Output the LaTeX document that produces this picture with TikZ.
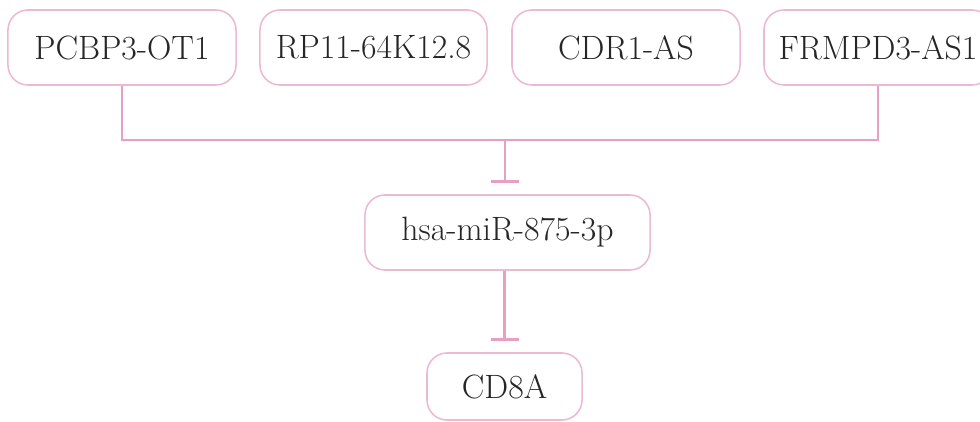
\documentclass[tikz,border=0pt]{standalone}
\usepackage{tikz}
\usetikzlibrary{arrows.meta, positioning}
\definecolor{boxpink}{HTML}{EBB9D4}
\definecolor{linkpink}{HTML}{E79FC3}
\definecolor{txtgray}{HTML}{262626}

\tikzset{
  gene/.style={draw=boxpink, line width=1.1pt, rounded corners=0.5cm,
    minimum height=1.875cm, text=txtgray, font=\fontsize{24}{28}\selectfont},
  link/.style={draw=linkpink, line width=2pt},
  inhib/.style={link, -{Bar[width=0.7cm, line width=2pt]}, shorten >=0.28cm}
}

\begin{document}
\begin{tikzpicture}[x=0.025cm, y=-0.025cm]
        \useasboundingbox (0,0) rectangle (980,421);
        % obere Reihe
        \node[gene, minimum width=5.7cm] (pcbp) at (122,47.5) {PCBP3-OT1};
        \node[gene, minimum width=5.675cm] (rpel) at (373.5,47.5) {RP11-64K12.8};
        \node[gene, minimum width=5.7cm] (cdra) at (626,47.5) {CDR1-AS};
        \node[gene, minimum width=5.7cm] (frmp) at (878,47.5) {FRMPD3-AS1};
        % miRNA und Ziel
        \node[gene, minimum width=7.125cm] (mirn) at (507.5,232.5) {hsa-miR-875-3p};
        \node[gene, minimum width=3.875cm, minimum height=1.675cm] (cdea) at (504.5,386.5) {CD8A};
        % Verbindungen
        \coordinate (junc) at (505,140);
        \draw[link] (pcbp.south) |- (junc) -| (frmp.south);
        \draw[inhib] (junc) -- (mirn.north -| junc);
        \draw[inhib] (mirn.south -| cdea) -- (cdea.north);
      \end{tikzpicture}
\end{document}
